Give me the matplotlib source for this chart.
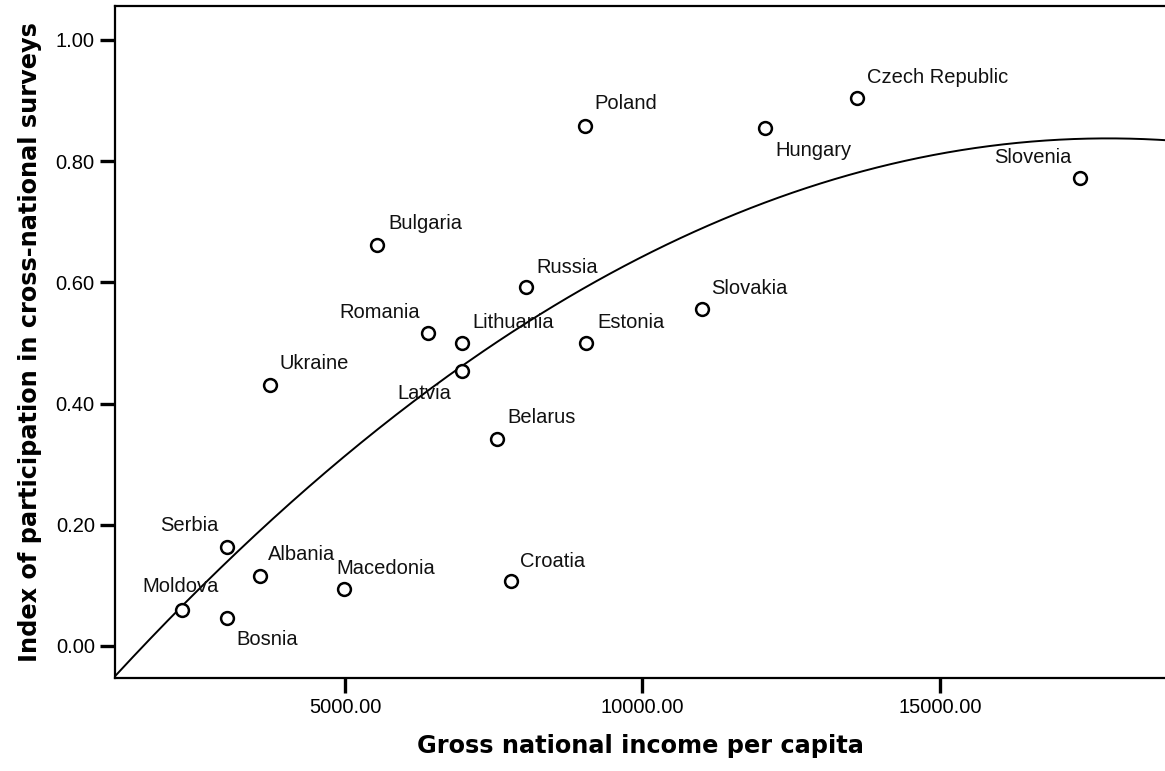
import numpy as np
import matplotlib
matplotlib.use("Agg")
import matplotlib.pyplot as plt

# country data
countries = ["Moldova", "Bosnia", "Serbia", "Albania", "Macedonia", "Croatia",
             "Ukraine", "Bulgaria", "Romania", "Lithuania", "Latvia", "Russia",
             "Belarus", "Estonia", "Poland", "Slovakia", "Hungary",
             "Czech Republic", "Slovenia"]
gni = [2260, 3020, 3020, 3570, 4980, 7790,
       3740, 5540, 6400, 6970, 6970, 8040,
       7560, 9050, 9030, 11000, 12060,
       13600, 17350]
index = [0.059, 0.046, 0.163, 0.116, 0.094, 0.107,
         0.431, 0.662, 0.516, 0.500, 0.454, 0.592,
         0.342, 0.500, 0.858, 0.556, 0.855,
         0.904, 0.772]

# label placement (pixel offsets, alignment)
label_pos = {
    "Moldova": (-1, 24, "center"), "Bosnia": (9, -21, "left"),
    "Serbia": (-9, 22, "right"), "Albania": (8, 21, "left"),
    "Macedonia": (-7, 20, "left"), "Croatia": (9, 20, "left"),
    "Ukraine": (9, 21, "left"), "Bulgaria": (11, 21, "left"),
    "Romania": (-8, 21, "right"), "Lithuania": (10, 20, "left"),
    "Latvia": (-11, -23, "right"), "Russia": (10, 20, "left"),
    "Belarus": (10, 21, "left"), "Estonia": (11, 20, "left"),
    "Poland": (10, 22, "left"), "Slovakia": (9, 20, "left"),
    "Hungary": (10, -23, "left"), "Czech Republic": (10, 21, "left"),
    "Slovenia": (-8, 21, "right"),
}

fig = plt.figure(figsize=(11.65, 7.71), dpi=100)
ax = fig.add_axes([115/1165, 1 - 678/771, 1 - 115/1165, (678 - 6)/771])

ax.scatter(gni, index, s=85, facecolors="white", edgecolors="black",
           linewidths=1.8, zorder=3)

# quadratic fit line
coef = np.polyfit(gni, index, 2)
xs = np.linspace(1134, 18782, 300)
ax.plot(xs, np.polyval(coef, xs), color="black", lw=1.4, zorder=2)

for name, x, y in zip(countries, gni, index):
    dx, dy, ha = label_pos[name]
    ax.annotate(name, (x, y), xytext=(dx, dy), textcoords="offset pixels",
                ha=ha, va="center", fontsize=14.5, family="Liberation Sans",
                color="#111111")

ax.set_xlim(1134, 18782)
ax.set_ylim(-0.053, 1.056)
ax.set_xticks([5000, 10000, 15000])
ax.set_xticklabels(["5000.00", "10000.00", "15000.00"])
ax.set_yticks([0, 0.2, 0.4, 0.6, 0.8, 1.0])
ax.set_yticklabels(["0.00", "0.20", "0.40", "0.60", "0.80", "1.00"])
ax.tick_params(length=10.5, width=2.4, labelsize=14.5, pad=4)
for lab in ax.get_xticklabels() + ax.get_yticklabels():
    lab.set_family("Liberation Sans")
for s in ax.spines.values():
    s.set_linewidth(1.6)
ax.spines["right"].set_visible(False)

ax.set_xlabel("Gross national income per capita", fontsize=17.3,
              fontweight="bold", labelpad=12)
ax.set_ylabel("Index of participation in cross-national surveys",
              fontsize=17.3, fontweight="bold", labelpad=10)

fig.savefig("out.png", dpi=100)
